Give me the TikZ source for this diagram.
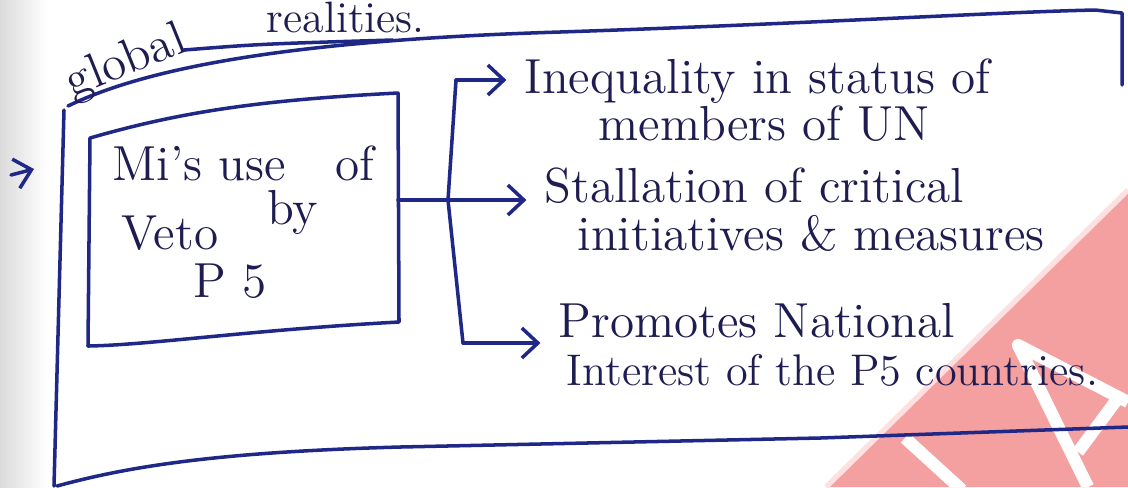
\documentclass[tikz,border=0pt]{standalone}
\usetikzlibrary{arrows.meta}

\definecolor{inkt}{RGB}{32,40,135}
\definecolor{schrijf}{RGB}{30,28,80}
\definecolor{logo}{RGB}{244,160,160}

\begin{document}
\begin{tikzpicture}[x=0.01cm, y=-0.01cm, >={Straight Barb[length=1.6mm,width=3mm]}]

% --- Stijlen ---
\tikzset{
    schrift/.style={
        text=schrijf,
        font=\fontsize{14}{14}\selectfont,
        inner sep=0pt,
        anchor=base west
    },
    lijn/.style={
        draw=inkt,
        line width=1pt,
        line cap=round,
        line join=round
    },
    pijl/.style={
        lijn,
        ->,
        shorten >=5pt
    }
}

\useasboundingbox (0,0) rectangle (1128,487);
\clip (0,0) rectangle (1128,487);

% --- Achtergrond ---
\fill[white] (0,0) rectangle (1128,487);
\shade[left color=black!14, right color=white] (0,0) rectangle (48,487);

% Watermerk rechtsonder
\fill[logo] (829,487) -- (1128,193) -- (1128,487) -- cycle;
\begin{scope}
    \clip (829,487) -- (1128,193) -- (1128,487) -- cycle;
    \draw[white, line width=3.5pt, line join=round] (1088,487) -- (1018,345) -- (1128,402);
    \draw[white, line width=3.5pt] (1118,398) -- (1078,452);
    \draw[white, line width=3.5pt] (905,438) -- (962,490);
\end{scope}
\draw[red!12, line width=1.5pt] (826,487) -- (1128,190);

% --- Kader ---
\draw[lijn] (68,106) .. controls (150,66) and (300,40) .. (560,32)
    .. controls (800,24) and (1000,12) .. (1095,10) -- (1122,13) -- (1122,85);
\draw[lijn] (64,110) -- (54,486);
\draw[lijn] (57,486) .. controls (130,466) and (220,452) .. (400,447) -- (820,438) -- (1128,427);

% Titel
\node[schrift, rotate=22] (titel1) at (72,98) {global};
\node[schrift, font=\fontsize{12.5}{14}\selectfont] (titel2) at (266,32) {realities.};
\draw[lijn] (184,50) .. controls (260,44) .. (393,40);

% Pijltje links
\coordinate (pS) at (11,175);
\coordinate (pE) at (34,169);
\draw[lijn, ->] (pS) -- (pE);

% --- Vak ---
\draw[lijn] (90,138) .. controls (180,112) and (260,100) .. (398,93) -- (399,322)
    .. controls (250,330) and (150,345) .. (88,346) -- cycle;
\node[schrift] (veto1) at (112,180) {Mi's use\quad of};
\node[schrift] (veto2) at (121,249) {Veto\quad\raisebox{7pt}{by}};
\node[schrift] (veto3) at (193,297) {P 5};

% --- Gevolgen ---
\node[schrift] (ineq1)  at (524,93)  {Inequality in status of};
\node[schrift] (ineq2)  at (598,140) {members of UN};
\node[schrift] (stall1) at (544,202) {Stallation of critical};
\node[schrift] (stall2) at (577,250) {initiatives \& measures};
\node[schrift] (promo1) at (558,337) {Promotes National};
\node[schrift, font=\fontsize{12.6}{14}\selectfont] (promo2) at (566,385) {Interest of the P5 countries.};

% --- Verbindingen ---
\coordinate (vakR)  at (398,200);
\coordinate (split) at (448,200);
\coordinate (topT)  at (456,80);
\coordinate (botT)  at (463,343);

\draw[lijn] (vakR) -- (split);
\draw[lijn] (topT) -- (split) -- (botT);
\draw[pijl] (topT)  -- (topT -| ineq1.west);
\draw[pijl] (split) -- (split -| stall1.west);
\draw[pijl] (botT)  -- (botT -| promo1.west);

\end{tikzpicture}
\end{document}
